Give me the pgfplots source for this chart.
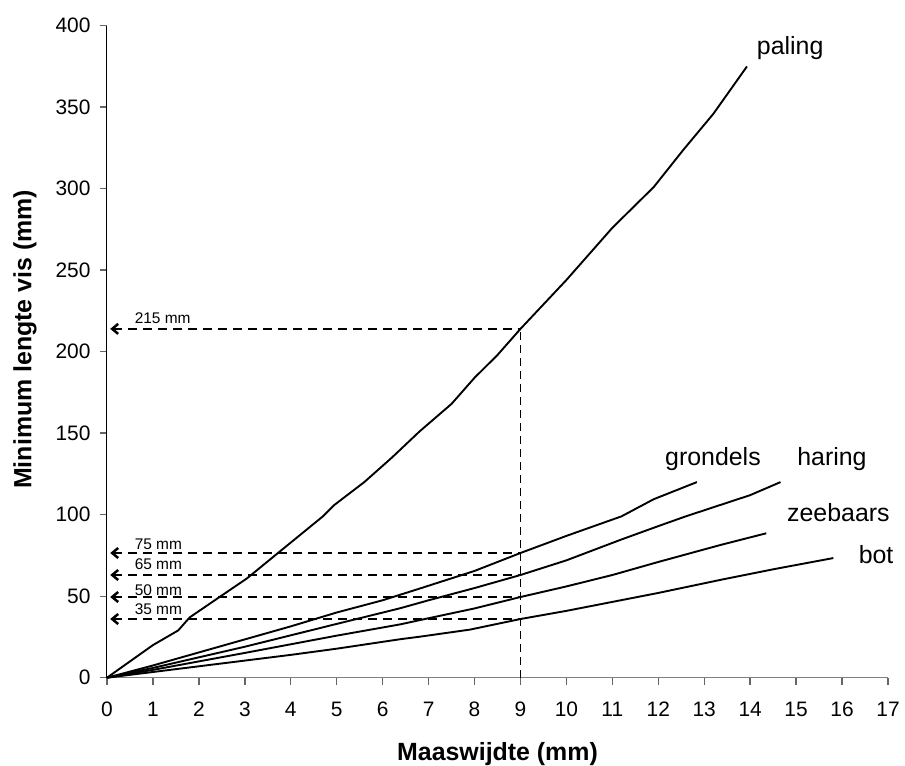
\documentclass[border=0pt]{standalone}
\usepackage{fontspec}
\setmainfont{Liberation Sans}
\usepackage{pgfplots}
\pgfplotsset{compat=1.18}
\usetikzlibrary{arrows.meta}

\begin{document}
\begin{tikzpicture}
\begin{axis}[
  scale only axis,
  width=781bp, height=652bp,
  xmin=0, xmax=17, ymin=0, ymax=400,
  xtick={0,1,...,17}, ytick={0,50,...,400},
  axis lines*=left,
  x axis line style={gray, line width=1.3bp, -},
  y axis line style={black, line width=1bp, -},
  tick align=outside,
  major tick length=7bp,
  tick style={black!60, line width=1.4bp},
  /pgf/number format/assume math mode=true,
  tick label style={font=\fontsize{21}{24}\selectfont},
  xticklabel style={yshift=-14bp},
  yticklabel style={xshift=-6bp},
  xlabel={Maaswijdte (mm)}, ylabel={Minimum lengte vis (mm)},
  label style={font=\bfseries\fontsize{25}{28}\selectfont},
  xlabel style={at={(axis description cs:0.5,-0.1166)}, anchor=center},
  ylabel style={at={(axis description cs:-0.105,0.519)}, anchor=center},
  clip=false,
]
% curves
\addplot[black, line width=1.9bp] coordinates {
  (0,0) (1,20) (1.55,29) (1.8,37) (2.45,49.5) (3.05,61) (3.7,76) (4.7,99)
  (4.95,106) (5.6,120) (6.2,135) (6.8,151) (7.5,168) (8,184) (8.5,198)
  (9,214) (10,244) (11,276) (11.9,301) (12.55,324) (13.2,346) (13.93,375)};
\addplot[black, line width=1.9bp] coordinates {
  (0,0) (1,7.5) (2,15.5) (3,23.5) (4,31.5) (5,40) (6,47.5) (6.82,54.8)
  (8,65.5) (9,76.5) (10,87) (11.2,99) (11.4,102) (11.9,109.5) (12.84,120)};
\addplot[black, line width=1.9bp] coordinates {
  (0,0) (1,6) (2,12.5) (3,19) (4,26) (5,33) (6.38,42.6) (7,47.5) (8,55)
  (9,63) (10,72) (11.17,84.5) (12,93) (12.6,99) (13.3,105.5) (14,112) (14.66,120)};
\addplot[black, line width=1.9bp] coordinates {
  (0,0) (1,4.8) (2,10) (3,15.2) (4,20.5) (5,25.8) (6.38,32.7) (6.82,35.4)
  (8,42.5) (9,49.5) (10,56) (11,63) (12,71) (13.35,81.4) (14.35,88.6)};
\addplot[black, line width=1.9bp] coordinates {
  (0,0) (1,3.5) (2,7) (3,10.5) (4,14) (5,17.8) (6.38,23.6) (6.82,25.2)
  (7.9,29.5) (9,36) (10,41) (11,46.5) (12,52) (13.35,60) (14.5,66.5) (15.81,73.4)};

% dashed reading lines at mesh 9 mm
\addplot[black, line width=1.5bp, dash pattern=on 8bp off 5bp] coordinates {(9,0) (9,214)};
\addplot[black, line width=2.5bp, dash pattern=on 9bp off 6bp, {Straight Barb[length=6bp,width=10bp]}-] coordinates {(0.07,214) (9,214)};
\addplot[black, line width=2.5bp, dash pattern=on 9bp off 6bp, {Straight Barb[length=6bp,width=10bp]}-] coordinates {(0.07,76.5) (9,76.5)};
\addplot[black, line width=2.5bp, dash pattern=on 9bp off 6bp, {Straight Barb[length=6bp,width=10bp]}-] coordinates {(0.07,63) (9,63)};
\addplot[black, line width=2.5bp, dash pattern=on 9bp off 6bp, {Straight Barb[length=6bp,width=10bp]}-] coordinates {(0.07,49.5) (9,49.5)};
\addplot[black, line width=2.5bp, dash pattern=on 9bp off 6bp, {Straight Barb[length=6bp,width=10bp]}-] coordinates {(0.07,36) (9,36)};

\begin{scope}[every node/.style={font=\fontsize{15.5}{17}\selectfont, anchor=base west, inner sep=0pt}]
\node at (axis cs:0.6,217) {215 mm};
\node at (axis cs:0.6,78.4) {75 mm};
\node at (axis cs:0.6,66.5) {65 mm};
\node at (axis cs:0.6,50.7) {50 mm};
\node at (axis cs:0.6,38.5) {35 mm};
\end{scope}

\begin{scope}[every node/.style={font=\fontsize{25}{28}\selectfont, anchor=center, inner sep=0pt}]
\node at (axis cs:14.87,386) {paling};
\node at (axis cs:13.19,134) {grondels};
\node at (axis cs:15.78,134) {haring};
\node at (axis cs:15.92,101) {zeebaars};
\node at (axis cs:16.74,75.3) {bot};
\end{scope}
\end{axis}
\pgfresetboundingbox
\path (-107bp,-88.3bp) rectangle (798bp,677.7bp);
\end{tikzpicture}
\end{document}
